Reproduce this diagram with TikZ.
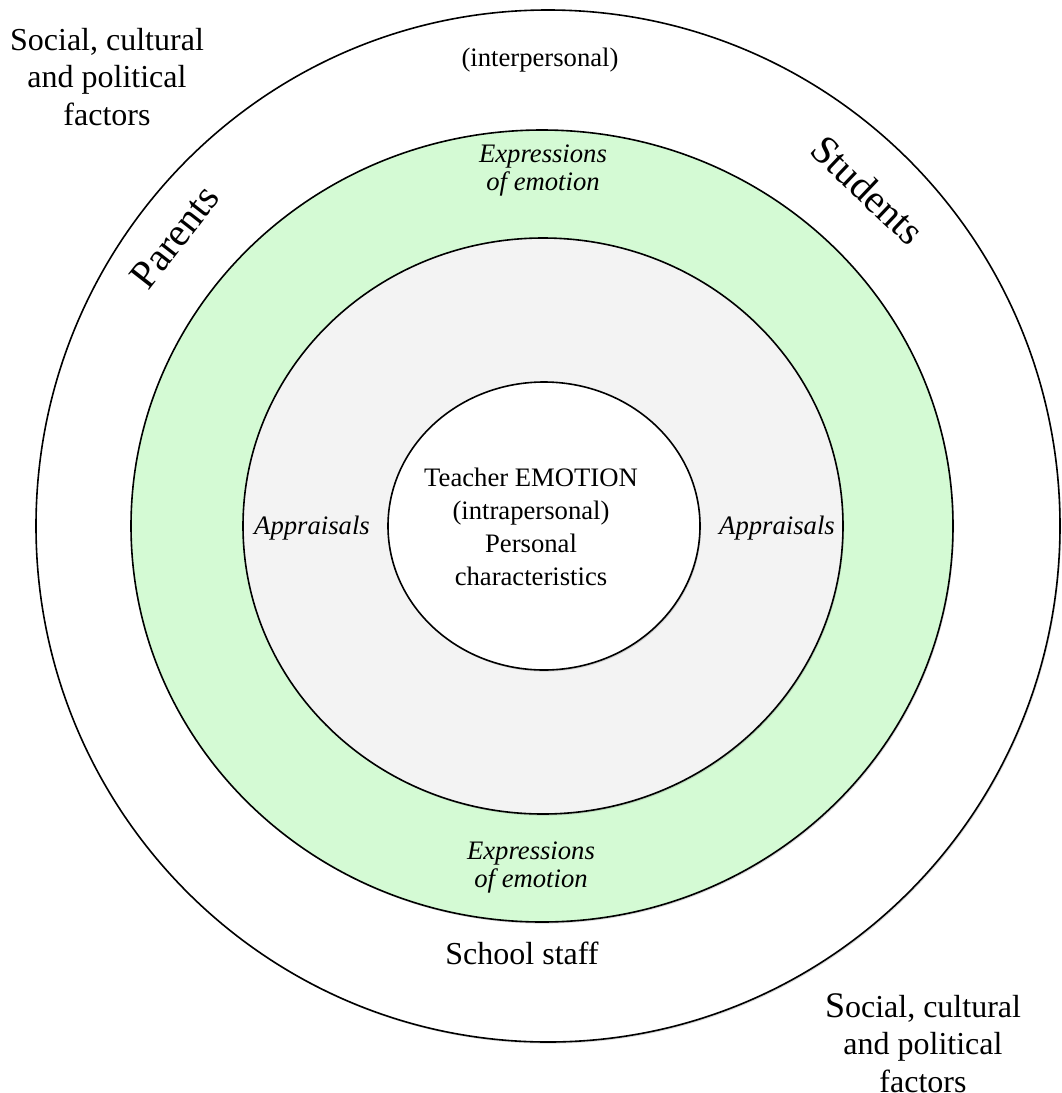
\documentclass[tikz,border=0pt]{standalone}
\usepackage{fontspec}
\setmainfont{Liberation Serif}
\usetikzlibrary{shadows}
\definecolor{ringgreen}{RGB}{212,250,212}
\definecolor{ringgrey}{RGB}{243,243,243}

\begin{document}
\begin{tikzpicture}[x=0.75pt, y=-0.75pt,
    ring/.style={draw=black, line width=1.2pt,
      drop shadow={shadow xshift=0.8pt, shadow yshift=-1.2pt, opacity=0.3}},
    small/.style={font=\fontsize{20}{24.75}\selectfont, align=center, inner sep=0pt},
    expr/.style={font=\fontsize{20}{21}\selectfont\itshape, align=center, inner sep=0pt},
    big/.style={font=\fontsize{24}{28}\selectfont, align=center, inner sep=0pt},
    huge/.style={font=\fontsize{30}{34}\selectfont, inner sep=0pt}]
  \useasboundingbox (0,0) rectangle (1061,1093);
  % rings, outside in
  \draw[ring, fill=white] (548,526) ellipse [x radius=384pt, y radius=387pt];
  \draw[ring, fill=ringgreen] (542,526) ellipse [x radius=308.25pt, y radius=297pt];
  \draw[ring, fill=ringgrey] (543,526) ellipse [x radius=225pt, y radius=216pt];
  \draw[ring, fill=white] (544,526) ellipse [x radius=117pt, y radius=108pt];

  \node[big] (socialtl) at (107,77) {Social, cultural\\and political\\factors};
  \node[big] (socialbr) at (923,1043) {{\fontsize{27}{28}\selectfont S}ocial, cultural\\and political\\factors};
  \node[small] (inter) at (540,60) {(interpersonal)};
  \node[huge, rotate=52] (parents) at (175,237) {Parents};
  \node[huge, rotate=-43.5] (students) at (868,190) {Students};
  \node[expr] (exprtop) at (543,171) {Expressions\\of emotion};
  \node[expr] (exprbot) at (531,867) {Expressions\\of emotion};
  \node[big] (staff) at (522,953) {School staff};
  \node[expr] (applft) at (312,528) {Appraisals};
  \node[expr] (apprgt) at (777,528) {Appraisals};
  \node[small] (teacher) at (531,527) {Teacher EMOTION\\(intrapersonal)\\Personal\\characteristics};
\end{tikzpicture}
\end{document}
